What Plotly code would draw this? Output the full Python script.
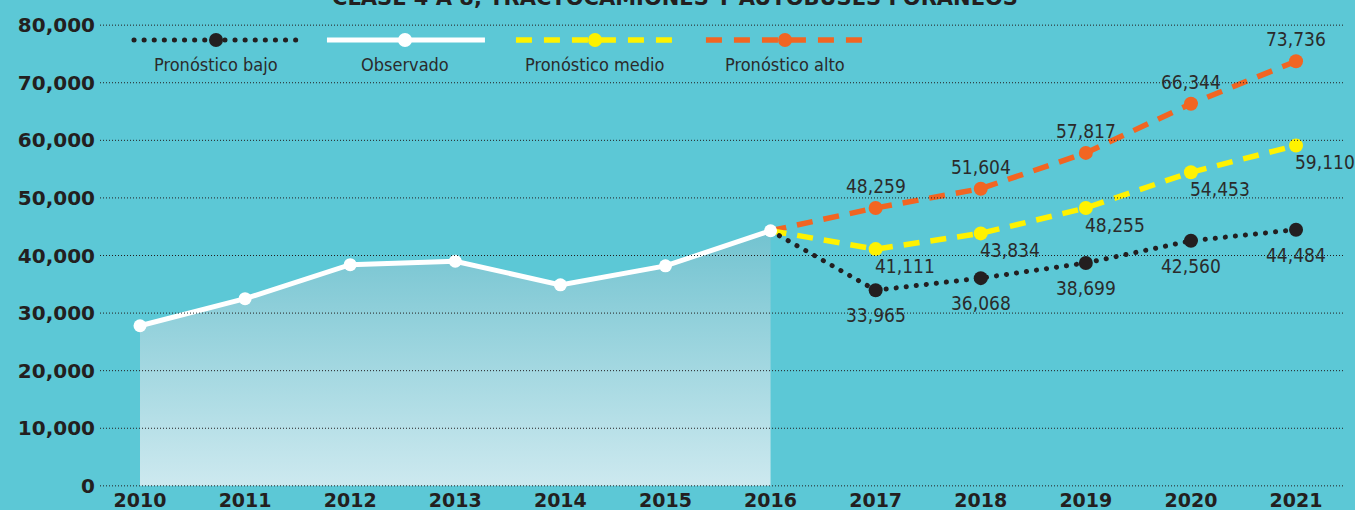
import plotly.graph_objects as go

# ---------------- data ----------------
years_obs = [2010, 2011, 2012, 2013, 2014, 2015, 2016]
observado = [27800, 32500, 38400, 39000, 34900, 38200, 44300]

years_fc = [2016, 2017, 2018, 2019, 2020, 2021]
bajo = [44300, 33965, 36068, 38699, 42560, 44484]
medio = [44300, 41111, 43834, 48255, 54453, 59110]
alto = [44300, 48259, 51604, 57817, 66344, 73736]

x_ticks = list(range(2010, 2022))
y_ticks = [0, 10000, 20000, 30000, 40000, 50000, 60000, 70000, 80000]
title_text = "CLASE 4 A 8, TRACTOCAMIONES Y AUTOBUSES FORÁNEOS"
legend_names = ["Pronóstico bajo", "Observado", "Pronóstico medio", "Pronóstico alto"]

# ---------------- style ----------------
BG = "#5cc8d6"
DARK = "#231f20"
TXT = "#2b2b2b"
YELLOW = "#fff200"
ORANGE = "#f26522"
WHITE = "#ffffff"
NARROW = "DejaVu Sans Condensed, Liberation Sans Narrow, sans-serif"
HEAVY = "DejaVu Sans, Arial Black, sans-serif"

fig = go.Figure()

def fc_trace(ys, color, dash, width, name):
    return go.Scatter(
        x=years_fc, y=ys, mode="lines+markers", name=name,
        line=dict(color=color, width=width, dash=dash),
        marker=dict(color=color, size=[0] + [14] * (len(ys) - 1), opacity=1,
                    line=dict(width=0)),
        showlegend=False, hoverinfo="skip",
    )

fig.add_trace(fc_trace(alto, ORANGE, "16px,11px", 5.5, legend_names[3]))
fig.add_trace(fc_trace(medio, YELLOW, "16px,11px", 5.5, legend_names[2]))
fig.add_trace(fc_trace(bajo, DARK, "5px,5px", 5, legend_names[0]))

fig.add_trace(go.Scatter(
    x=years_obs, y=observado, mode="lines+markers", name=legend_names[1],
    line=dict(color=WHITE, width=5),
    marker=dict(color=WHITE, size=13, opacity=1),
    fill="tozeroy",
    fillgradient=dict(type="vertical", start=0, stop=max(observado),
                      colorscale=[[0, "#cde9ef"], [1, "#72c3d0"]]),
    showlegend=False, hoverinfo="skip",
))

# ---------------- custom legend (overlay axes 0..1) ----------------
leg_y = 0.9653
leg_label_y = 0.9132
leg_items = [
    (legend_names[0], DARK, "5px,5px", 5, 0.0273, 0.0932, 0.159),
    (legend_names[1], WHITE, "solid", 5, 0.1823, 0.245, 0.3092),
    (legend_names[2], YELLOW, "16px,12px", 5.5, 0.3341, 0.3976, 0.4618),
    (legend_names[3], ORANGE, "16px,12px", 5.5, 0.4867, 0.5502, 0.6137),
]
for name, color, dash, w, xa, xm, xb in leg_items:
    fig.add_trace(go.Scatter(
        x=[xa, xm, xb], y=[leg_y] * 3, xaxis="x2", yaxis="y2",
        mode="lines+markers", line=dict(color=color, width=w, dash=dash),
        marker=dict(color=color, size=[0, 14, 0], opacity=1, line=dict(width=0)),
        showlegend=False, hoverinfo="skip",
    ))
    fig.add_annotation(x=xm, y=leg_label_y, xref="paper", yref="paper",
                       xanchor="center", yanchor="middle",
                       text=name, showarrow=False,
                       font=dict(family=NARROW, size=18, color=TXT))

# ---------------- data labels ----------------
def fmt(v):
    return f"{v:,}"

LBL = dict(family=NARROW, size=19, color=TXT)
for xv, yv in zip(years_fc[1:], alto[1:]):
    fig.add_annotation(x=xv, y=yv, text=fmt(yv), showarrow=False, yshift=22, font=LBL)
for xv, yv in zip(years_fc[1:], medio[1:]):
    fig.add_annotation(x=xv, y=yv, text=fmt(yv), showarrow=False, xshift=29, yshift=-17, font=LBL)
for xv, yv in zip(years_fc[1:], bajo[1:]):
    fig.add_annotation(x=xv, y=yv, text=fmt(yv), showarrow=False, yshift=-25, font=LBL)

# ---------------- title (cut at top like the reference) ----------------
fig.add_annotation(x=0.4618, y=1.0259, xref="paper", yref="paper",
                   xanchor="center", yanchor="bottom",
                   text="<b>" + title_text + "</b>", showarrow=False,
                   font=dict(family=HEAVY, size=21, color=DARK))

# ---------------- gridlines above the fill ----------------
for v in y_ticks:
    fig.add_shape(type="line", xref="paper", x0=0, x1=1, yref="y", y0=v, y1=v,
                  line=dict(color=DARK, width=1, dash="1px,2px"), layer="above")

fig.update_layout(
    width=1355, height=510,
    margin=dict(l=100, r=10, t=24, b=23),
    paper_bgcolor=BG, plot_bgcolor=BG,
    showlegend=False,
    xaxis=dict(range=[2009.6194, 2021.466], tickvals=x_ticks,
               ticktext=[str(t) for t in x_ticks], showgrid=False, zeroline=False,
               showline=False, ticks="", fixedrange=True, automargin=False,
               tickfont=dict(family=HEAVY, size=19, color=DARK, weight="bold")),
    yaxis=dict(range=[-200, 80200], tickvals=y_ticks, ticktext=[fmt(t) for t in y_ticks],
               showgrid=False, zeroline=False, showline=False, ticks="", fixedrange=True,
               ticklabelstandoff=4, automargin=False,
               tickfont=dict(family=HEAVY, size=20, color=DARK, weight="bold")),
    xaxis2=dict(range=[0, 1], overlaying="x", visible=False, fixedrange=True),
    yaxis2=dict(range=[0, 1], overlaying="y", visible=False, fixedrange=True),
)

post = """
document.body.style.margin = '0';
document.body.style.overflow = 'hidden';
var gd = document.getElementById('{plot_id}');
function fixDots(){
  document.querySelectorAll('path.js-line').forEach(function(p){
    var s = (p.style.stroke || '').replace(/\\s/g,'');
    if (s === 'rgb(35,31,32)') { p.style.strokeLinecap = 'round'; p.style.strokeDasharray = '0.1px,10px'; }
  });
}
fixDots();
if (gd && gd.on) { gd.on('plotly_afterplot', fixDots); }
"""

fig.write_html("out.html", config={"displayModeBar": False, "staticPlot": True}, post_script=post)
